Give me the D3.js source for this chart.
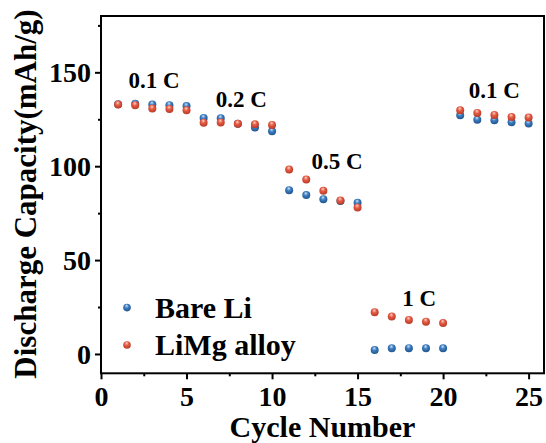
<!DOCTYPE html>
<html><head><meta charset="utf-8">
<script src="https://cdn.jsdelivr.net/npm/d3@7"></script>
<style>
html,body{margin:0;padding:0;background:#fff;}
text{font-family:"Liberation Serif","Times New Roman",serif;font-weight:bold;fill:#000;}
</style></head>
<body><svg id="c" width="546" height="443"></svg>
<script>
const cycles = [1,2,3,4,5,6,7,8,9,10,11,12,13,14,15,16,17,18,19,20,21,22,23,24,25];
const bareLi = [133.0,133.2,132.8,132.5,132.0,125.7,125.5,122.6,120.6,118.6,87.2,84.6,82.4,81.5,80.5,2.1,3.0,3.1,3.0,3.0,127.1,124.8,124.5,123.4,122.7];
const limgAlloy = [132.8,132.5,130.7,130.5,129.8,123.2,123.3,122.6,122.3,122.0,98.2,92.9,86.9,81.7,78.0,22.2,19.9,18.1,17.2,16.5,129.8,128.4,127.3,126.2,125.9];
const seriesNames = ["Bare Li","LiMg alloy"];
const xTicks = [0,5,10,15,20,25];
const yTicks = [0,50,100,150];
const xMinor = [2.5,7.5,12.5,17.5,22.5];
const yMinor = [25,75,125,175];
const rateLabels = ["0.1 C","0.2 C","0.5 C","1 C","0.1 C"];
const rateCycles = [3.1,8.2,13.8,18.6,23.0];
const rateValues = [141.5,131.5,98.5,25.5,136.5];

const svg = d3.select("#c");
const L=101,R=544,T=16,B=373.3;
const x = d3.scaleLinear().domain([0,25.9]).range([L,R]);
const y = d3.scaleLinear().domain([-10.3,180]).range([B,T]);

const defs = svg.append("defs");
function grad(id, light, base, dark){
  const g = defs.append("radialGradient").attr("id",id).attr("cx","0.45").attr("cy","0.4").attr("r","0.6").attr("fx","0.45").attr("fy","0.25");
  g.append("stop").attr("offset","0").attr("stop-color",light);
  g.append("stop").attr("offset","0.45").attr("stop-color",base);
  g.append("stop").attr("offset","1").attr("stop-color",dark);
}
grad("gb","#cfe2f5","#3b7dc0","#21558e");
grad("gr","#fbd2c8","#e55a43","#b83a27");
const fills = ["url(#gb)","url(#gr)"];

// frame
svg.append("rect").attr("x",L).attr("y",T).attr("width",R-L).attr("height",B-T)
  .attr("fill","none").attr("stroke","#000").attr("stroke-width",2);

// axes
const xAx = svg.append("g").attr("transform",`translate(0,${B})`)
  .call(d3.axisBottom(x).tickValues(xTicks).tickSize(6).tickPadding(3).tickFormat(d3.format("d")));
const xAm = svg.append("g").attr("transform",`translate(0,${B})`)
  .call(d3.axisBottom(x).tickValues(xMinor).tickSize(3).tickFormat(""));
const yAx = svg.append("g").attr("transform",`translate(${L},0)`)
  .call(d3.axisLeft(y).tickValues(yTicks).tickSize(6).tickPadding(4).tickFormat(d3.format("d")));
const yAm = svg.append("g").attr("transform",`translate(${L},0)`)
  .call(d3.axisLeft(y).tickValues(yMinor).tickSize(3).tickFormat(""));
[xAx,xAm,yAx,yAm].forEach(g=>{
  g.select(".domain").remove();
  g.selectAll("line").attr("stroke","#000").attr("stroke-width",2);
  g.selectAll("text").attr("font-size",28).attr("font-family",null);
});
xAx.selectAll("text").attr("dy","0.85em");
yAx.selectAll("text").attr("dy","0.34em");

// series
[bareLi,limgAlloy].forEach((vals,i)=>{
  svg.append("g").selectAll("circle").data(vals).join("circle")
    .attr("cx",(d,j)=>x(cycles[j])).attr("cy",d=>y(d)).attr("r",4)
    .attr("fill",fills[i]);
});

// rate labels
svg.append("g").selectAll("text").data(rateLabels).join("text")
  .attr("x",(d,i)=>x(rateCycles[i])).attr("y",(d,i)=>y(rateValues[i]))
  .attr("text-anchor","middle").attr("font-size",23).text(d=>d);

// legend
const lg = svg.append("g");
const legY=[y(24.7),y(4.8)];
seriesNames.forEach((n,i)=>{
  lg.append("circle").attr("cx",127).attr("cy",legY[i]).attr("r",3.8).attr("fill",fills[i]);
  lg.append("text").attr("x",155).attr("y",legY[i]+10.5).attr("font-size",30).text(n);
});

// titles
svg.append("text").attr("x",(L+R)/2).attr("y",437).attr("text-anchor","middle")
  .attr("font-size",30).text("Cycle Number");
svg.append("text").attr("transform",`translate(36,194) rotate(-90)`).attr("text-anchor","middle")
  .attr("font-size",31).text("Discharge Capacity(mAh/g)");
</script></body></html>
